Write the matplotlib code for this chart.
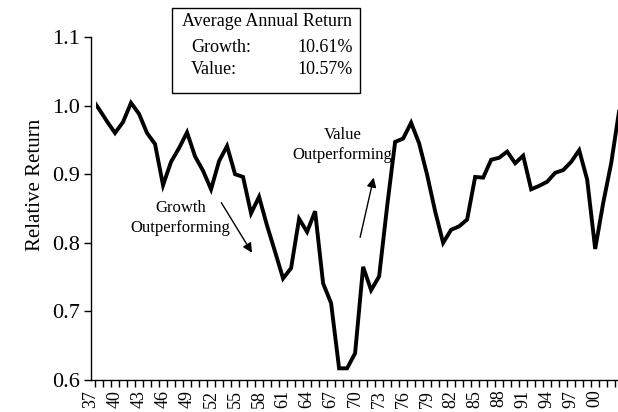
import matplotlib
matplotlib.use("Agg")
import matplotlib.pyplot as plt
from matplotlib.patches import Rectangle
from matplotlib.ticker import FixedLocator, NullFormatter

# relative return (value / growth), year-end readings
years = list(range(1937, 2004))
relative = [
    1.012, 0.995, 0.977, 0.960, 0.976, 1.004, 0.988, 0.960, 0.944, 0.884,
    0.918, 0.938, 0.961, 0.926, 0.905, 0.878, 0.919, 0.941, 0.900, 0.896,
    0.843, 0.867, 0.825, 0.787, 0.748, 0.763, 0.835, 0.816, 0.846, 0.741,
    0.712, 0.617, 0.617, 0.639, 0.765, 0.731, 0.751, 0.853, 0.947, 0.952,
    0.975, 0.945, 0.899, 0.846, 0.800, 0.819, 0.824, 0.834, 0.896, 0.895,
    0.921, 0.924, 0.933, 0.916, 0.927, 0.878, 0.883, 0.889, 0.902, 0.906,
    0.918, 0.935, 0.892, 0.791, 0.858, 0.916, 0.993,
]
label_years = list(range(1937, 2001, 3))
y_ticks = [0.6, 0.7, 0.8, 0.9, 1.0, 1.1]

box_title = "Average Annual Return"
box_rows = [("Growth:", "10.61%"), ("Value:", "10.57%")]

plt.rcParams["font.family"] = ["Liberation Serif", "DejaVu Serif"]

W, H = 618, 412
fig = plt.figure(figsize=(W / 100, H / 100), dpi=100)
ax = fig.add_axes([91 / W, 1 - 380 / H, 1 - 91 / W, (380 - 37) / H])

line, = ax.plot(years, relative, color="black", lw=2.8, solid_joinstyle="miter")
ax.set_xlim(1937.6, 2002.85)
ax.set_ylim(0.6, 1.1)
clip = Rectangle((1937.6, 0.55), 80, 0.6, transform=ax.transData)
line.set_clip_path(clip)

for s in ("top", "right"):
    ax.spines[s].set_visible(False)
for s in ("left", "bottom"):
    ax.spines[s].set_linewidth(1.0)

ax.set_yticks(y_ticks)
ax.set_yticklabels([f"{v:.1f}" for v in y_ticks])
ax.tick_params(axis="y", direction="out", length=5, width=1, pad=3, labelsize=16)

ax.set_xticks(label_years)
ax.set_xticklabels([f"{y % 100:02d}" for y in label_years], rotation=90)
ax.tick_params(axis="x", which="major", length=0, pad=7, labelsize=13)
ax.xaxis.set_minor_locator(FixedLocator([y + 0.5 for y in years]))
ax.xaxis.set_minor_formatter(NullFormatter())
ax.tick_params(axis="x", which="minor", direction="out", length=5, width=1)

fig.text(35 / W, 1 - 185 / H, "Relative Return", rotation=90,
         ha="center", va="center", fontsize=15)

# box with the average annual returns
fig.patches.append(Rectangle((172 / W, 1 - 93 / H), (360 - 172) / W, (93 - 8) / H,
                             transform=fig.transFigure, fill=False,
                             edgecolor="black", lw=1.0))
fig.text(267 / W, 1 - 22 / H, box_title, ha="center", va="center", fontsize=13)
for i, (name, val) in enumerate(box_rows):
    yy = 1 - (47 + 23 * i) / H
    fig.text(191 / W, yy, name, ha="left", va="center", fontsize=13)
    fig.text(353 / W, yy, val, ha="right", va="center", fontsize=13)

ax.text(1968.45, 0.943, "Value\nOutperforming", ha="center", va="center",
        fontsize=12, linespacing=1.3)
ax.annotate("", xy=(1972.4, 0.899), xytext=(1970.55, 0.804),
            arrowprops=dict(arrowstyle="-|>", color="black", lw=1.0,
                            mutation_scale=14))
ax.text(1948.2, 0.836, "Growth\nOutperforming", ha="center", va="center",
        fontsize=12, linespacing=1.3)
ax.annotate("", xy=(1957.3, 0.782), xytext=(1953.1, 0.862),
            arrowprops=dict(arrowstyle="-|>", color="black", lw=1.0,
                            mutation_scale=14))

fig.savefig("out.png", dpi=100)
